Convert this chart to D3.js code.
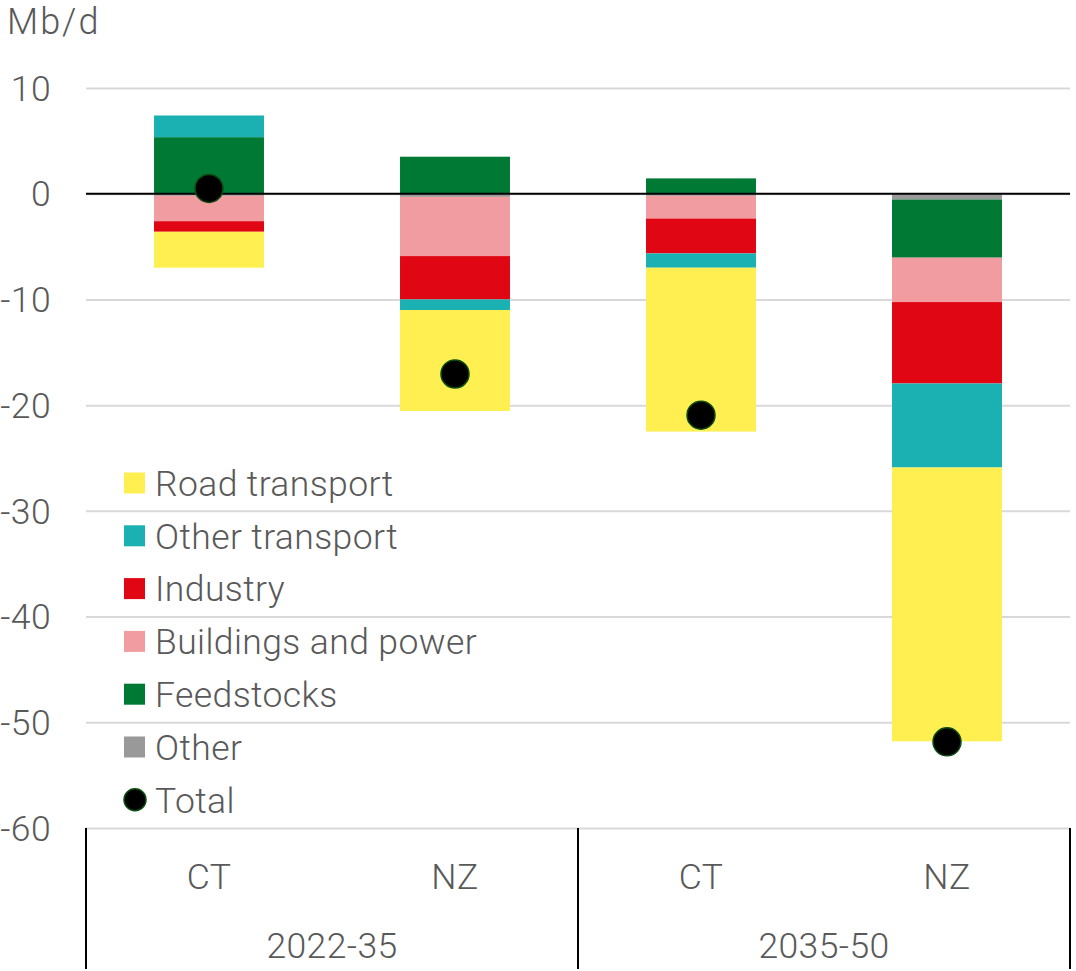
<html>
<head>
<script src="https://d3js.org/d3.v7.min.js"></script>
<style>
  body { margin: 0; background: #fff; }
  text { font-family: Roboto, "Liberation Sans", sans-serif; font-weight: 300; fill: #595959; letter-spacing: 0.4px; }
  .gridlines line { stroke: #d9d9d9; stroke-width: 2; }
  .gridlines .domain { stroke: none; }
</style>
</head>
<body>
<svg id="chart" width="1076" height="971"></svg>
<script>
const groups = ['2022-35', '2035-50'];
const scenarios = ['CT', 'NZ', 'CT', 'NZ'];
const seriesKeys = ['Other', 'Feedstocks', 'Buildings and power', 'Industry', 'Other transport', 'Road transport'];
const legendKeys = ['Road transport', 'Other transport', 'Industry', 'Buildings and power', 'Feedstocks', 'Other'];
const colors = ['#999999', '#007934', '#f19ca0', '#e10613', '#1bb1b3', '#ffef50'];

const road = [-3.4, -9.55, -15.5, -25.9];
const otherTransport = [2.05, -1.0, -1.35, -7.95];
const industry = [-1.0, -4.1, -3.3, -7.7];
const buildings = [-2.4, -5.6, -2.15, -4.2];
const feedstocks = [5.35, 3.5, 1.45, -5.5];
const other = [-0.2, -0.3, -0.2, -0.55];
const totals = [0.5, -17.05, -20.95, -51.85];
const yTicks = [10, 0, -10, -20, -30, -40, -50, -60];

const svg = d3.select('svg#chart');
const margins = {top: 88, left: 86, right: 6, bottom: 143};
const plotRight = 1070;
const plotBottom = 828;
const fontSize = '35.5px';

const rows = scenarios.map((s, i) => ({
  i: i,
  'Other': other[i],
  'Feedstocks': feedstocks[i],
  'Buildings and power': buildings[i],
  'Industry': industry[i],
  'Other transport': otherTransport[i],
  'Road transport': road[i]
}));

const x = d3.scaleBand().domain(d3.range(scenarios.length))
  .range([margins.left, plotRight]).paddingInner(0.553).paddingOuter(0.2765);
const y = d3.scaleLinear().domain([-60, 10]).range([plotBottom, margins.top]);
const color = d3.scaleOrdinal().domain(seriesKeys).range(colors);

// grid
let yGrid = d3.axisLeft(y).tickValues(yTicks).tickSize(-(plotRight - margins.left)).tickFormat('');
svg.append('g')
  .attr('class', 'gridlines')
  .attr('transform', `translate(${margins.left},0)`)
  .call(yGrid);

// tick labels
svg.append('g').selectAll('text')
  .data(yTicks)
  .join('text')
  .attr('x', 51)
  .attr('y', d => y(d))
  .attr('dy', '0.36em')
  .attr('text-anchor', 'end')
  .style('font-size', fontSize)
  .text(d => d);

svg.append('text')
  .attr('x', 7)
  .attr('y', 34)
  .style('font-size', '36px')
  .style('letter-spacing', '2px')
  .text('Mb/d');

// bars
const stacked = d3.stack().keys(seriesKeys).offset(d3.stackOffsetDiverging)(rows);
svg.append('g').selectAll('g')
  .data(stacked)
  .join('g')
  .attr('fill', d => color(d.key))
  .selectAll('rect')
  .data(d => d)
  .join('rect')
  .attr('x', d => x(d.data.i))
  .attr('width', x.bandwidth())
  .attr('y', d => y(Math.max(d[0], d[1])))
  .attr('height', d => Math.abs(y(d[0]) - y(d[1])));

// zero line
svg.append('line')
  .attr('x1', margins.left).attr('x2', plotRight)
  .attr('y1', y(0)).attr('y2', y(0))
  .attr('stroke', '#000').attr('stroke-width', 2);

// totals
svg.append('g').selectAll('circle')
  .data(totals)
  .join('circle')
  .attr('cx', (d, i) => x(i) + x.bandwidth() / 2)
  .attr('cy', d => y(d))
  .attr('r', 14)
  .attr('fill', '#000')
  .attr('stroke', '#0b4d12')
  .attr('stroke-width', 1.5);

// x axis: scenario and period labels
svg.append('g').selectAll('text')
  .data(scenarios)
  .join('text')
  .attr('x', (d, i) => x(i) + x.bandwidth() / 2)
  .attr('y', 876)
  .attr('dy', '0.36em')
  .attr('text-anchor', 'middle')
  .style('font-size', fontSize)
  .text(d => d);

const groupX = d3.scaleBand().domain(groups).range([margins.left, plotRight]);
svg.append('g').selectAll('text')
  .data(groups)
  .join('text')
  .attr('x', d => groupX(d) + groupX.bandwidth() / 2)
  .attr('y', 945)
  .attr('dy', '0.36em')
  .attr('text-anchor', 'middle')
  .style('font-size', fontSize)
  .text(d => d);

svg.append('g').selectAll('line')
  .data([...groups.map(g => groupX(g)), plotRight])
  .join('line')
  .attr('x1', d => d).attr('x2', d => d)
  .attr('y1', plotBottom).attr('y2', 969)
  .attr('stroke', '#000').attr('stroke-width', 2);

// legend
const legend = svg.append('g').attr('transform', 'translate(124,483)');
const items = legend.selectAll('g')
  .data([...legendKeys, 'Total'])
  .join('g')
  .attr('transform', (d, i) => `translate(0,${i * 52.8})`);

items.filter(d => d !== 'Total').append('rect')
  .attr('x', 0).attr('y', -10.5)
  .attr('width', 21).attr('height', 21)
  .attr('fill', d => color(d));

items.filter(d => d === 'Total').append('circle')
  .attr('cx', 11).attr('cy', 0).attr('r', 11)
  .attr('fill', '#000').attr('stroke', '#0b4d12').attr('stroke-width', 1.5);

items.append('text')
  .attr('x', 31)
  .attr('y', 0)
  .attr('dy', '0.36em')
  .style('font-size', fontSize)
  .text(d => d);
</script>
</body>
</html>
